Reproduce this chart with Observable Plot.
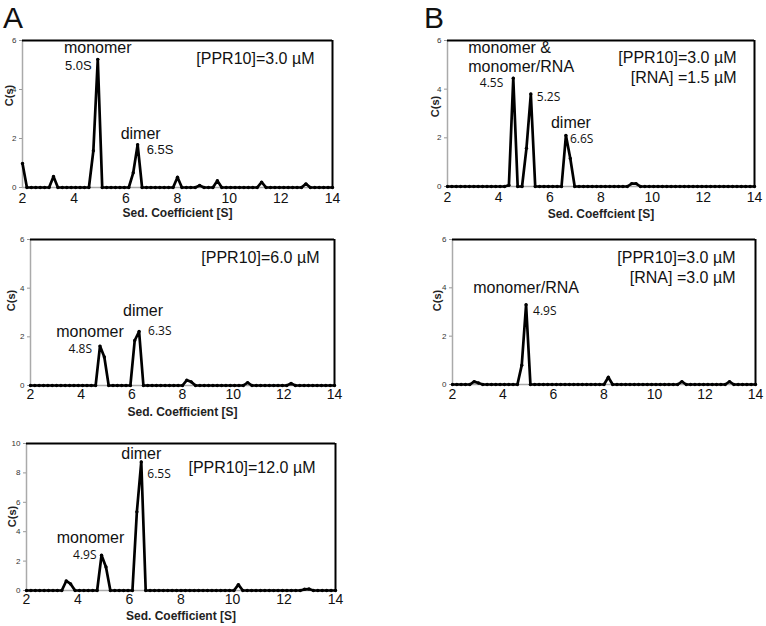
<!DOCTYPE html>
<html><head><meta charset="utf-8">
<script src="https://cdn.jsdelivr.net/npm/d3@7"></script>
<script src="https://cdn.jsdelivr.net/npm/@observablehq/plot@0.6"></script>
<style>
body{margin:0;background:#fff;}
#wrap{position:relative;width:766px;height:626px;overflow:hidden;background:#fff;}
.panel{position:absolute;}
.letter{position:absolute;font-family:"Liberation Sans",Arial,sans-serif;font-size:30px;line-height:normal;color:#111;}
</style></head><body>
<div id="wrap">
<div class="letter" style="left:3px;top:1px">A</div>
<div class="letter" style="left:424px;top:1px">B</div>
</div>
<script>
// sedimentation coefficient grid [S]
const sGrid = [
 2.000,2.171,2.343,2.514,2.686,2.857,3.029,3.200,3.371,3.543,
 3.714,3.886,4.057,4.229,4.400,4.571,4.743,4.914,5.086,5.257,
 5.429,5.600,5.771,5.943,6.114,6.286,6.457,6.629,6.800,6.971,
 7.143,7.314,7.486,7.657,7.829,8.000,8.171,8.343,8.514,8.686,
 8.857,9.029,9.200,9.371,9.543,9.714,9.886,10.057,10.229,10.400,
 10.571,10.743,10.914,11.086,11.257,11.429,11.600,11.771,11.943,12.114,
 12.286,12.457,12.629,12.800,12.971,13.143,13.314,13.486,13.657,13.829,
 14.000];
// c(s) values
const cA1 = [
 0.98,0,0,0,0,0,0,0.45,0,0,
 0,0,0,0,0,0,1.5,5.23,0,0,
 0,0,0,0,0,0.6,1.75,0,0,0,
 0,0,0,0,0,0.42,0,0,0,0,
 0.08,0,0,0,0.28,0,0,0,0,0,
 0,0,0,0,0.22,0,0,0,0,0,
 0,0,0,0,0.15,0,0,0,0,0,
 0];
const cA2 = [
 0,0,0,0,0,0,0,0,0,0,
 0,0,0,0,0,0,1.62,1.17,0,0,
 0,0,0,0,1.85,2.22,0,0,0,0,
 0,0,0,0,0,0,0.22,0.15,0,0,
 0,0,0,0,0,0,0,0,0,0,
 0.12,0,0,0,0,0,0,0,0,0,
 0.08,0,0,0,0,0,0,0,0,0,
 0];
const cA3 = [
 0,0,0,0,0,0,0,0,0,0.65,
 0.45,0,0,0,0,0,0,2.4,1.6,0,
 0,0,0,0,0,5.35,8.75,0,0,0,
 0,0,0,0,0,0,0,0,0,0,
 0,0,0,0,0,0,0,0,0.4,0,
 0,0,0,0,0,0,0,0,0,0,
 0,0,0,0.08,0.1,0,0,0,0,0,
 0];
const cB1 = [
 0,0,0,0,0,0,0,0,0,0,
 0,0,0,0,0.05,4.45,0,0,1.57,3.8,
 0,0,0,0,0,0,0,2.1,1.15,0,
 0,0,0,0,0,0,0,0,0,0,
 0,0,0.12,0.12,0,0,0,0,0,0,
 0,0,0,0,0,0,0,0,0,0,
 0,0,0,0,0,0,0,0,0,0,
 0];
const cB2 = [
 0,0,0,0,0,0.12,0.06,0,0,0,
 0,0,0,0,0,0,0.8,3.3,0,0,
 0,0,0,0,0,0,0,0,0,0,
 0,0,0,0,0,0,0.3,0,0,0,
 0,0,0,0,0,0,0,0,0,0,
 0,0,0,0.12,0,0,0,0,0,0,
 0,0,0,0,0.12,0,0,0,0,0,
 0];
const xTicks = [2,4,6,8,10,12,14];
const yTicks6 = [0,2,4,6];
const yTicks10 = [0,2,4,6,8,10];
const concLabels = ["[PPR10]=3.0 µM","[PPR10]=6.0 µM","[PPR10]=12.0 µM",
  "[PPR10]=3.0 µM\n[RNA] =1.5 µM","[PPR10]=3.0 µM\n[RNA] =3.0 µM"];
const xTitles = ["Sed. Coefficient [S]","Sed. Coefficient [S]","Sed. Coefficient [S]","Sed. Coeffcient [S]",null];
const yTitle = "C(s)";

const SANS = '"Liberation Sans", Arial, sans-serif';
const OPEN = '"Open Sans", sans-serif';

const panels = [
 {values:cA1, conc:concLabels[0], xt:xTitles[0], yMax:6, yTicks:yTicks6,
  left:0, top:25, W:345, H:200, mL:22, mR:13, mT:15, mB:38, tickPad:6, xtDy:29, cDx:-18, cDy:23, ylDx:-13, ylDy:55,
  ann:[{k:17,t:"monomer",a:"middle",dx:0,dy:-6,f:SANS,s:16},
       {k:17,t:"5.0S",a:"end",dx:-6,dy:11,f:SANS,s:13},
       {k:26,t:"dimer",a:"middle",dx:3,dy:-6,f:SANS,s:16},
       {k:26,t:"6.5S",a:"start",dx:9,dy:9,f:SANS,s:13}]},
 {values:cA2, conc:concLabels[1], xt:xTitles[1], yMax:6, yTicks:yTicks6,
  left:0, top:225, W:345, H:200, mL:30, mR:11, mT:14, mB:40, tickPad:4, xtDy:30, cDx:-15, cDy:23, ylDx:-19, ylDy:61,
  ann:[{k:16,t:"monomer",a:"middle",dx:-10,dy:-9,f:SANS,s:16},
       {k:16,t:"4.8S",a:"end",dx:-8,dy:7,f:OPEN,s:12},
       {k:25,t:"dimer",a:"middle",dx:4,dy:-15,f:SANS,s:16},
       {k:25,t:"6.3S",a:"start",dx:9,dy:4,f:OPEN,s:12}]},
 {values:cA3, conc:concLabels[2], xt:xTitles[2], yMax:10, yTicks:yTicks10,
  left:0, top:425, W:345, H:201, mL:26, mR:10, mT:18, mB:36, tickPad:4, xtDy:29, cDx:-20, cDy:29, ylDx:-14, ylDy:73,
  ann:[{k:17,t:"monomer",a:"middle",dx:-11,dy:-12,f:SANS,s:16},
       {k:17,t:"4.9S",a:"end",dx:-5,dy:4,f:OPEN,s:12},
       {k:26,t:"dimer",a:"middle",dx:0,dy:-3,f:SANS,s:16},
       {k:26,t:"6.5S",a:"start",dx:6,dy:16,f:OPEN,s:12}]},
 {values:cB1, conc:concLabels[3], xt:xTitles[3], yMax:6, yTicks:yTicks6,
  left:390, top:25, W:376, H:200, mL:57, mR:12, mT:15, mB:39, tickPad:6, xtDy:31, cDx:-18, cDy:42, ylDx:-12, ylDy:66,
  ann:[{k:15,t:"monomer &\nmonomer/RNA",a:"start",dx:-45,dy:-6,f:SANS,s:16},
       {k:15,t:"4.5S",a:"end",dx:-10,dy:9,f:OPEN,s:12},
       {k:19,t:"5.2S",a:"start",dx:6,dy:7,f:OPEN,s:12},
       {k:27,t:"dimer",a:"middle",dx:5,dy:-7,f:SANS,s:16},
       {k:27,t:"6.6S",a:"start",dx:4,dy:8,f:OPEN,s:12}]},
 {values:cB2, conc:concLabels[4], xt:xTitles[4], yMax:6, yTicks:yTicks6,
  left:390, top:225, W:376, H:200, mL:62, mR:11, mT:14, mB:41, tickPad:5, xtDy:30, cDx:-20, cDy:43, ylDx:-15, ylDy:61,
  ann:[{k:17,t:"monomer/RNA",a:"middle",dx:0,dy:-12,f:SANS,s:16},
       {k:17,t:"4.9S",a:"start",dx:7,dy:10,f:OPEN,s:12}]}
];

const wrap = document.getElementById("wrap");
for (const p of panels) {
  const data = sGrid.map((s, i) => ({s, c: p.values[i]}));
  const marks = [
    Plot.ruleX([2], {stroke:"#aaa", strokeWidth:1.5}),
    Plot.ruleY([0], {stroke:"#aaa", strokeWidth:1.5}),
    Plot.ruleY([p.yMax], {stroke:"#000", strokeWidth:2}),
    Plot.ruleX([14], {stroke:"#000", strokeWidth:2}),
    Plot.axisY({ticks:p.yTicks, tickFormat:d=>String(d), tickSize:3, tickPadding:3, fontSize:8, label:null, stroke:"#999", fill:"#333"}),
    Plot.axisX({ticks:xTicks, tickFormat:d=>String(d), tickSize:0, tickPadding:p.tickPad, fontSize:14, label:null, fill:"#111"}),
    Plot.line(data, {x:"s", y:"c", stroke:"#000", strokeWidth:2.7}),
    Plot.dot(data, {x:"s", y:"c", r:1.7, fill:"#000"}),
    Plot.text([p.conc], {frameAnchor:"top-right", text:d=>d, textAnchor:"end", lineAnchor:"bottom",
      dx:p.cDx, dy:p.cDy, fontSize:16, lineHeight:1.19, fontFamily:SANS, fill:"#111"}),
    Plot.text([yTitle], {frameAnchor:"top-left", text:d=>d, rotate:-90, textAnchor:"middle", lineAnchor:"middle",
      dx:p.ylDx, dy:p.ylDy, fontSize:11, fontWeight:"bold", fontFamily:SANS, fill:"#222"})
  ];
  if (p.xt) marks.push(Plot.text([p.xt], {frameAnchor:"bottom", text:d=>d, lineAnchor:"bottom",
      dy:p.xtDy, fontSize:12, fontWeight:"bold", fontFamily:SANS, fill:"#222"}));
  for (const a of p.ann) {
    marks.push(Plot.text([data[a.k]], {x:"s", y:"c", text:()=>a.t, textAnchor:a.a, lineAnchor:"bottom",
      dx:a.dx, dy:a.dy, fontSize:a.s, fontFamily:a.f, lineHeight:1.19, fill:"#111"}));
  }
  const svg = Plot.plot({
    width:p.W, height:p.H,
    marginLeft:p.mL, marginRight:p.mR, marginTop:p.mT, marginBottom:p.mB,
    x:{domain:[2,14], label:null},
    y:{domain:[0,p.yMax], label:null},
    style:{fontFamily:SANS, background:"transparent", overflow:"visible"},
    marks
  });
  svg.classList.add("panel");
  svg.style.left = p.left + "px";
  svg.style.top = p.top + "px";
  svg.style.position = "absolute";
  wrap.appendChild(svg);
}
</script>
</body></html>
